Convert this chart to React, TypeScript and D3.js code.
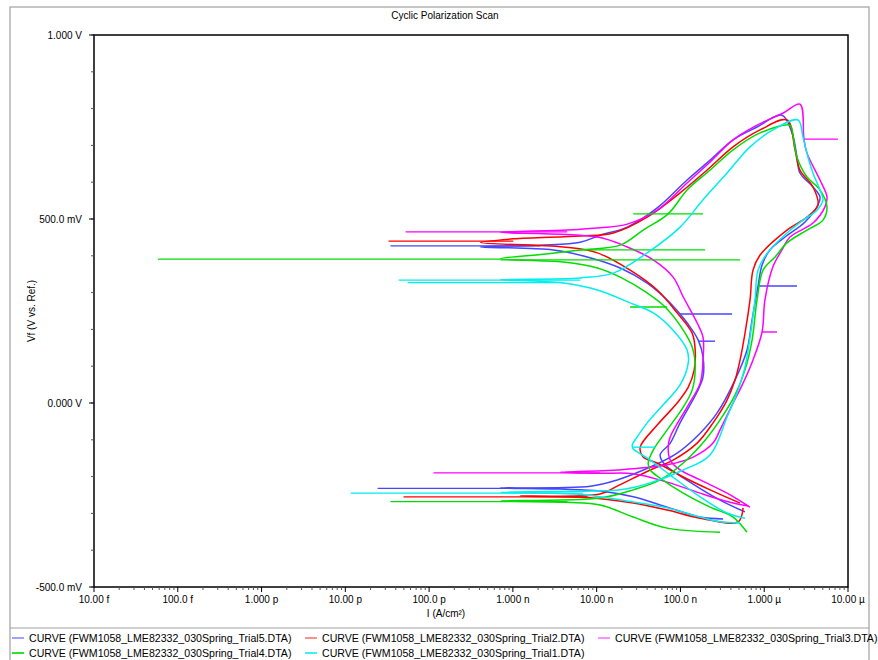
import React from "react";
import * as d3 from "d3";

// Currents in nA, potentials in mV.
// Main scan path of each trial
const trial5I = [323, 172, 69.5, 27.3, 11.0, 3.68, 0.71, 8.4, 17.6, 43.6, 91.3, 172, 274, 449, 623, 716, 844, 942, 1170, 1770, 3070, 4380, 4630, 3820, 2670, 2460, 2150, 1630, 821, 425, 226, 120, 52.8, 23.2, 11.0, 6.37, 2.13, 0.41, 3.04, 7.71, 19.1, 40.1, 69.5, 99, 120, 163, 186, 186, 158, 99, 75.6, 57.2, 65.7, 130, 297, 590];
const trial5E = [-315, -310, -283, -255, -239, -234, -231, -226, -209, -174, -136, -82, -27, 63, 144, 226, 318, 375, 416, 451, 492, 538, 560, 587, 625, 668, 734, 782, 750, 715, 660, 606, 530, 478, 456, 437, 429, 424, 416, 397, 367, 326, 280, 242, 218, 171, 125, 71, 30, -54, -109, -141, -168, -215, -264, -296];

const trial2I = [559, 487, 172, 69.5, 27.3, 7.71, 1.23, 11.0, 17.6, 43.6, 81.8, 158, 245, 360, 449, 515, 590, 677, 735, 892, 1870, 3240, 4380, 3820, 2670, 2330, 1870, 892, 425, 208, 99, 40.1, 15.8, 6.37, 1.01, 0.41, 4.0, 10.2, 25.1, 52.8, 91.3, 138, 150, 146, 124, 91.3, 52.8, 33.1, 35.9, 52.8, 108, 226, 515];
const trial2E = [-285, -323, -313, -291, -272, -257, -253, -247, -226, -182, -155, -109, -54, 8, 63, 117, 190, 280, 361, 402, 470, 505, 538, 587, 633, 688, 769, 742, 696, 633, 571, 505, 462, 454, 446, 436, 424, 408, 361, 307, 245, 190, 144, 90, 43, 0, -60, -120, -147, -163, -201, -236, -272];

const trial3I = [641, 425, 172, 69.5, 27.3, 11.0, 3.68, 17.6, 69.5, 142, 245, 297, 425, 559, 735, 942, 1020, 1270, 1630, 2030, 3820, 5310, 5610, 4630, 3240, 2980, 2670, 1680, 821, 425, 226, 120, 52.8, 23.2, 11.0, 4.46, 0.71, 10.2, 23.2, 47.3, 81.8, 108, 158, 186, 186, 172, 120, 75.6, 71.4, 75.6, 99, 172, 360, 677];
const trial3E = [-280, -272, -245, -215, -192, -191, -188, -182, -168, -147, -109, -73, 0, 54, 117, 193, 280, 370, 416, 451, 489, 533, 560, 606, 679, 717, 812, 788, 755, 715, 655, 598, 524, 486, 476, 470, 464, 451, 424, 389, 342, 288, 218, 179, 117, 54, -11, -92, -120, -155, -182, -209, -245, -283];

const trial4I = [297, 69.5, 27.3, 11.0, 4.46, 0.71, 11.0, 27.3, 57.2, 108, 197, 297, 449, 590, 716, 821, 968, 1350, 1870, 3240, 5020, 5610, 4630, 3240, 2460, 2150, 2030, 892, 425, 226, 120, 71.4, 35.9, 19.1, 6.37, 2.5, 0.71, 4.0, 10.2, 19.1, 40.1, 65.7, 108, 138, 150, 138, 108, 69.5, 47.3, 41.2, 43.6, 57.2, 108, 226, 425, 623];
const trial4E = [-351, -340, -310, -277, -270, -266, -258, -236, -209, -163, -101, -46, 22, 90, 171, 280, 361, 397, 435, 470, 497, 533, 579, 614, 668, 742, 755, 734, 688, 633, 579, 514, 470, 429, 416, 405, 392, 383, 367, 342, 299, 261, 198, 152, 98, 35, -11, -73, -128, -163, -182, -204, -245, -283, -310, -351];

const trial1I = [515, 297, 172, 69.5, 27.3, 6.93, 0.71, 8.4, 19.1, 43.6, 108, 226, 360, 473, 590, 677, 777, 844, 1110, 1870, 2900, 4260, 5020, 4630, 3820, 3330, 2900, 2530, 1270, 677, 360, 186, 99, 40.1, 15.8, 6.37, 0.71, 4.0, 10.2, 25.1, 47.3, 81.8, 120, 124, 99, 62.2, 40.1, 30.5, 26.6, 27.3, 30.5, 43.6, 75.6, 172, 360, 590];
const trial1E = [-326, -323, -310, -285, -269, -249, -243, -239, -236, -217, -182, -141, -38, 27, 98, 179, 280, 361, 410, 462, 497, 524, 552, 579, 625, 668, 723, 769, 742, 696, 625, 552, 478, 408, 353, 340, 335, 326, 307, 272, 245, 198, 144, 109, 49, -5, -54, -92, -114, -125, -133, -155, -196, -255, -299, -313];

// Horizontal current spikes (potential in mV, current span in nA)
const trial5SpikeE = [-232, 427, 318, 242, 168];
const trial5SpikeFrom = [0.0243, 0.0346, 844, 99, 163];
const trial5SpikeTo = [3.68, 2.13, 2460, 414, 259];

const trial2SpikeE = [-255, 440];
const trial2SpikeFrom = [0.0495, 0.0328];
const trial2SpikeTo = [7.71, 1.01];

const trial3SpikeE = [-190, 465, 717, 193];
const trial3SpikeFrom = [0.113, 0.0524, 2980, 942];
const trial3SpikeTo = [11.0, 4.46, 7580, 1420];

const trial4SpikeE = [-268, 391, 389, 416, 514, 261];
const trial4SpikeFrom = [0.0346, 0.000058, 0.71, 6.37, 27.3, 25.1];
const trial4SpikeTo = [4.46, 0.71, 515, 197, 186, 69.5];

const trial1SpikeE = [-245, 334, 327, -120];
const trial1SpikeFrom = [0.0116, 0.0432, 0.0553, 26.6];
const trial1SpikeTo = [6.93, 6.37, 4.0, 50.0];

const seriesNames = [
  "CURVE (FWM1058_LME82332_030Spring_Trial5.DTA)",
  "CURVE (FWM1058_LME82332_030Spring_Trial2.DTA)",
  "CURVE (FWM1058_LME82332_030Spring_Trial3.DTA)",
  "CURVE (FWM1058_LME82332_030Spring_Trial4.DTA)",
  "CURVE (FWM1058_LME82332_030Spring_Trial1.DTA)",
];
const seriesCurrents = [trial5I, trial2I, trial3I, trial4I, trial1I];
const seriesPotentials = [trial5E, trial2E, trial3E, trial4E, trial1E];
const spikePotentials = [trial5SpikeE, trial2SpikeE, trial3SpikeE, trial4SpikeE, trial1SpikeE];
const spikeFrom = [trial5SpikeFrom, trial2SpikeFrom, trial3SpikeFrom, trial4SpikeFrom, trial1SpikeFrom];
const spikeTo = [trial5SpikeTo, trial2SpikeTo, trial3SpikeTo, trial4SpikeTo, trial1SpikeTo];
const lineColors = ["#4646ff", "#ff0000", "#ff00ff", "#00dd00", "#00eeee"];
const legendColors = ["#a0a0ff", "#ff9090", "#ff90ff", "#30e030", "#40f0f0"];

const xTickValues = [1e-14, 1e-13, 1e-12, 1e-11, 1e-10, 1e-9, 1e-8, 1e-7, 1e-6, 1e-5];
const xTickLabels = ["10.00 f", "100.0 f", "1.000 p", "10.00 p", "100.0 p", "1.000 n", "10.00 n", "100.0 n", "1.000 µ", "10.00 µ"];
const yTickValues = [1, 0.5, 0, -0.5];
const yTickLabels = ["1.000 V", "500.0 mV", "0.000 V", "-500.0 mV"];

const FONT = "'Liberation Sans', Arial, sans-serif";

export default function App() {
  const W = 878, H = 660;
  const left = 94, right = 848, top = 35, bottom = 587;
  const x = d3.scaleLog().domain([1e-14, 1e-5]).range([left, right]);
  const y = d3.scaleLinear().domain([-0.5, 1]).range([bottom, top]);
  const line = d3
    .line<[number, number]>()
    .x((d) => x(d[0]))
    .y((d) => y(d[1]))
    .curve(d3.curveCatmullRom.alpha(0.5));
  const straight = d3
    .line<[number, number]>()
    .x((d) => x(d[0]))
    .y((d) => y(d[1]));

  const minorX: number[] = [];
  for (let k = -14; k < -5; k++) {
    for (let m = 2; m <= 9; m++) minorX.push(m * Math.pow(10, k));
  }
  const minorY: number[] = d3.range(-5, 11).map((i) => i / 10);

  const paths = seriesCurrents.map((cur, i) => {
    const pot = seriesPotentials[i];
    const n = Math.min(cur.length, pot.length);
    const pts: [number, number][] = [];
    for (let j = 0; j < n; j++) pts.push([cur[j] * 1e-9, pot[j] / 1000]);
    return line(pts) || "";
  });
  const spikePaths = spikePotentials.map((es, i) =>
    es.map(
      (e, j) =>
        straight([
          [spikeFrom[i][j] * 1e-9, e / 1000],
          [spikeTo[i][j] * 1e-9, e / 1000],
        ]) || ""
    )
  );

  const legendX = [12, 305, 598];
  const legendY = [638, 653];

  return (
    <svg
      width={W}
      height={H}
      style={{ position: "absolute", left: 0, top: 0, background: "#fff" }}
      fontFamily={FONT}
    >
      <rect x={0} y={0} width={W} height={H} fill="#fff" />
      <rect x={10} y={7} width={859} height={665} fill="none" stroke="#a0a0a0" strokeWidth={1.2} />
      <text x={445} y={19} fontSize={10} textAnchor="middle" fill="#000">
        Cyclic Polarization Scan
      </text>

      {/* curves */}
      <g fill="none" strokeWidth={1.5} strokeLinejoin="round">
        {paths.map((d, i) => (
          <g key={i} stroke={lineColors[i]}>
            <path d={d} />
            {spikePaths[i].map((sd, j) => (
              <path key={j} d={sd} strokeWidth={1.4} />
            ))}
          </g>
        ))}
      </g>

      {/* frame */}
      <rect x={left} y={top} width={right - left} height={bottom - top} fill="none" stroke="#000" strokeWidth={1.5} />

      {/* y ticks */}
      {minorY.map((v, i) => (
        <line key={"my" + i} x1={left - 3} x2={left} y1={y(v)} y2={y(v)} stroke="#555" strokeWidth={1} />
      ))}
      {yTickValues.map((v, i) => (
        <g key={"y" + i}>
          <line x1={left - 5} x2={left} y1={y(v)} y2={y(v)} stroke="#000" strokeWidth={1} />
          <text x={82} y={y(v) + 3.5} fontSize={10} textAnchor="end" fill="#000">
            {yTickLabels[i]}
          </text>
        </g>
      ))}

      {/* x ticks */}
      {minorX.map((v, i) => (
        <line key={"mx" + i} x1={x(v)} x2={x(v)} y1={bottom} y2={bottom + 3} stroke="#555" strokeWidth={1} />
      ))}
      {xTickValues.map((v, i) => (
        <g key={"x" + i}>
          <line x1={x(v)} x2={x(v)} y1={bottom} y2={bottom + 5} stroke="#000" strokeWidth={1} />
          <text x={x(v)} y={603} fontSize={10} textAnchor="middle" fill="#000">
            {xTickLabels[i]}
          </text>
        </g>
      ))}

      {/* axis titles */}
      <text x={446} y={617} fontSize={10} textAnchor="middle" fill="#000">
        I (A/cm²)
      </text>
      <text
        x={0}
        y={0}
        fontSize={10}
        textAnchor="middle"
        fill="#000"
        transform={`translate(35,${(top + bottom) / 2}) rotate(-90)`}
      >
        Vf (V vs. Ref.)
      </text>

      {/* legend */}
      <line x1={10} x2={869} y1={628} y2={628} stroke="#a0a0a0" strokeWidth={1.2} />
      {seriesNames.map((name, i) => {
        const col = i % 3;
        const row = Math.floor(i / 3);
        const lx = legendX[col];
        const ly = legendY[row];
        return (
          <g key={"lg" + i}>
            <line x1={lx} x2={lx + 12} y1={ly} y2={ly} stroke={legendColors[i]} strokeWidth={2} />
            <text x={lx + 17} y={ly + 3.7} fontSize={10.6} fill="#000">
              {name}
            </text>
          </g>
        );
      })}
    </svg>
  );
}
